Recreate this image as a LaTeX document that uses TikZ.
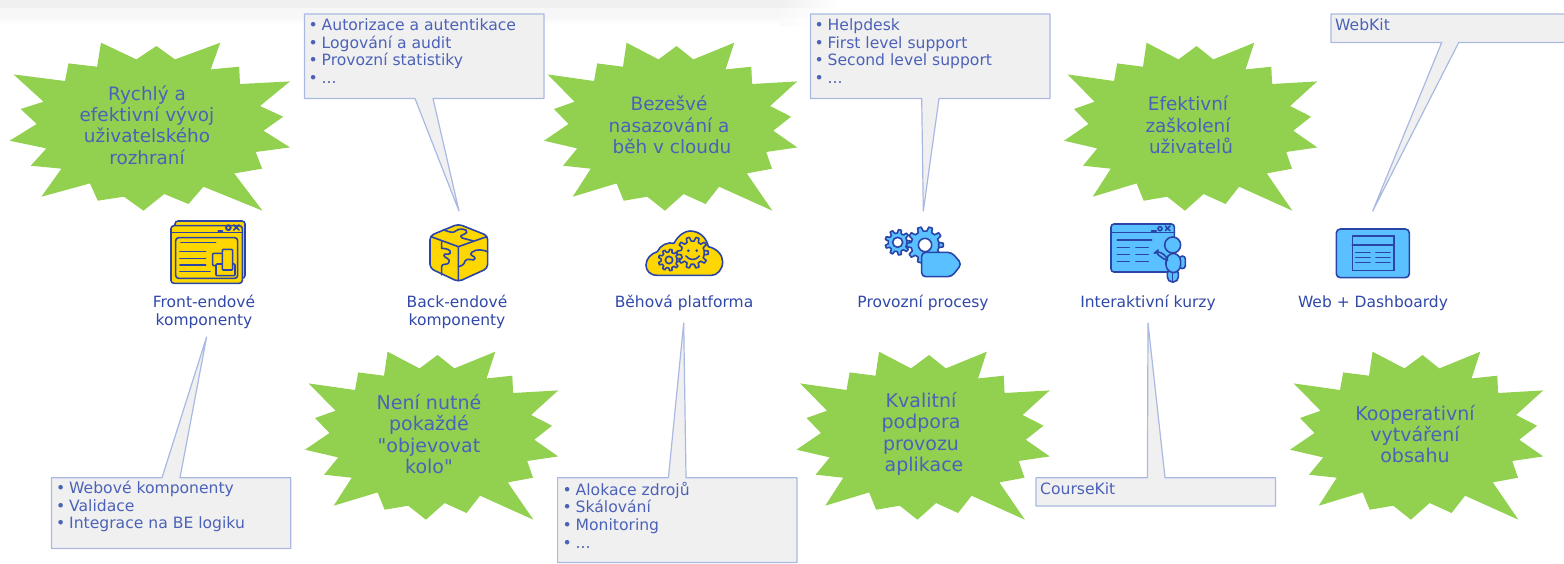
\documentclass[tikz,border=0pt]{standalone}
\usepackage{fontspec}
\setmainfont{DejaVu Sans}
\newfontfamily\plainfont{DejaVu Sans}
\usetikzlibrary{positioning}
\definecolor{burstgreen}{HTML}{92D050}
\definecolor{textblue}{HTML}{4C62B8}
\definecolor{labelblue}{HTML}{3048A8}
\definecolor{calloutgray}{HTML}{F0F0F0}
\definecolor{calloutline}{HTML}{A9B9E2}
\definecolor{iconyellow}{HTML}{FFD700}
\definecolor{iconblue}{HTML}{5AC0FF}
\definecolor{iconline}{HTML}{2A44A8}
\tikzset{
    burstnode/.style = {align=center,inner sep=0pt,text=textblue,font=\fontsize{18.4}{21.3}\selectfont},
    burstnodel/.style = {align=center,inner sep=0pt,text=textblue,font=\fontsize{19}{21.3}\selectfont},
    labelnode/.style = {align=center,inner sep=0pt,text=labelblue,font=\fontsize{15.5}{18}\selectfont},
    calloutnode/.style = {align=left,anchor=west,inner sep=0pt,text=textblue,font=\fontsize{15.6}{17.6}\selectfont},
    burstfill/.style = {fill=burstgreen},
    calloutshape/.style = {fill=calloutgray,draw=calloutline,line width=1.2pt,line join=round},
    iconfilly/.style = {draw=iconline,fill=iconyellow,line width=1.6pt,line join=round},
    iconfillb/.style = {draw=iconline,fill=iconblue,line width=1.6pt,line join=round},
    iconstroke/.style = {draw=iconline,line width=1.6pt,line cap=round}
}
\newcommand{\bul}{\makebox[13pt][l]{•}}
% burst outline: x, y, xscale
\newcommand{\burst}[3]{
\fill[burstfill,shift={(#1,#2)},xscale=#3]
 (91.4,0) -- (126.8,16.7) -- (146.8,3.3) -- (165.4,16.7) -- (210.7,0) -- (201.1,26.7)
 -- (229.6,24) -- (230.4,41.3) -- (280.4,38.7) -- (250.4,63.3) -- (273.6,74) -- (253.9,88)
 -- (280.4,104.7) -- (246.1,109.3) -- (252.5,126) -- (224.6,130.7) -- (252.9,168) -- (193.9,144)
 -- (178.9,161.3) -- (154.6,151.3) -- (133.9,168) -- (114.3,154) -- (88.2,158) -- (80.4,140.7)
 -- (31.8,154) -- (51.8,126) -- (21.1,123) -- (36.8,105.7) -- (0,98) -- (27.1,81.3)
 -- (11.1,66.3) -- (33.9,59) -- (3.9,31.7) -- (55.4,38.3) -- (58.9,20.7) -- (87.5,24) -- cycle;
}
% gear: x, y, outer, inner, teeth, style
\newcommand{\gear}[6]{
\begin{scope}[shift={(#1,#2)}]
\pgfmathsetmacro{\gs}{360/#5}
\draw[#6] (-0.3*\gs:#4) \foreach \i [evaluate=\i as \a using \i*\gs] in {0,...,#5} {
 -- (\a-0.3*\gs:#4) -- (\a-0.16*\gs:#3) -- (\a+0.16*\gs:#3) -- (\a+0.3*\gs:#4)} -- cycle;
\end{scope}
}
\begin{document}
\begin{tikzpicture}[x=1pt,y=-1pt]
\useasboundingbox (0,0) rectangle (1564,563);
\clip (0,0) rectangle (1564,563);
% top band
\fill[black!6] (0,0) rectangle (780,8);
\fill[black!3] (0,8) rectangle (780,17);
\shade[left color=black!6,right color=white] (780,0) rectangle (840,8);
\shade[left color=black!3,right color=white] (780,8) rectangle (830,17);
\shade[top color=black!3,bottom color=white] (0,17) rectangle (780,25);
\shade[left color=black!2,right color=white] (780,17) rectangle (810,25);
%
\burst{9.6}{42.7}{1}
\burst{544}{42.7}{0.903}
\burst{1064}{42.7}{0.903}
\burst{305}{351.7}{0.903}
\burst{796.5}{351.7}{0.903}
\burst{1290}{351.7}{0.903}
%
\draw[calloutshape] (304.5,14) -- (544,14) -- (544,98.5) -- (433,98.5) -- (459,211) -- (415,98.5) -- (304.5,98.5) -- cycle;
\draw[calloutshape] (810.5,14) -- (1050,14) -- (1050,98.5) -- (939,98.5) -- (923.3,211) -- (921.7,98.5) -- (810.5,98.5) -- cycle;
\draw[calloutshape] (1331,14) -- (1570,14) -- (1570,42.5) -- (1458.7,42.5) -- (1372.7,211) -- (1441.7,42.5) -- (1331,42.5) -- cycle;
\draw[calloutshape] (51.5,477.7) -- (162,477.7) -- (206.6,337) -- (180,477.7) -- (290.8,477.7) -- (290.8,548.5) -- (51.5,548.5) -- cycle;
\draw[calloutshape] (557.6,477.7) -- (668.4,477.7) -- (683.7,323) -- (686,477.7) -- (797,477.7) -- (797,562.5) -- (557.6,562.5) -- cycle;
\draw[calloutshape] (1036,477.7) -- (1147.4,477.7) -- (1148,323) -- (1165,477.7) -- (1275.5,477.7) -- (1275.5,506) -- (1036,506) -- cycle;
%
\node[burstnode] at (147,125) (rychly) {Rychlý a\\efektivní vývoj\\uživatelského\\rozhraní};
\node[burstnode] at (669,125) (bezesve) {Bezešvé\\nasazování a\\\hspace*{6pt}běh v cloudu};
\node[burstnode] at (1188,125) (efektivni) {Efektivní\\zaškolení\\\hspace*{6pt}uživatelů};
\node[burstnodel] at (429,434) (neni) {Není nutné\\pokaždé\\{\plainfont"}objevovat\\kolo{\plainfont"}};
\node[burstnodel] at (921,434) (kvalitni) {Kvalitní\\podpora\\provozu\\\hspace*{6pt}aplikace};
\node[burstnodel] at (1415,434) (kooperativni) {Kooperativní\\vytváření\\obsahu};
%
\node[calloutnode] at (308.5,51) (backlist) {\bul Autorizace a autentikace\\\bul Logování a audit\\\bul Provozní statistiky\\\bul ...};
\node[calloutnode] at (814.5,51) (opslist) {\bul Helpdesk\\\bul First level support\\\bul Second level support\\\bul ...};
\node[calloutnode] at (1335,25) (webkit) {WebKit};
\node[calloutnode] at (56,506.5) (frontlist) {\bul Webové komponenty\\\bul Validace\\\bul Integrace na BE logiku};
\node[calloutnode] at (562.5,515) (runlist) {\bul Alokace zdrojů\\\bul Skálování\\\bul Monitoring\\\bul ...};
\node[calloutnode] at (1040,489) (coursekit) {CourseKit};
%
\node[labelnode] at (204,312) (front) {Front-endové\\komponenty};
\node[labelnode] at (457,312) (back) {Back-endové\\komponenty};
\node[labelnode] at (684,303) (platform) {Běhová platforma};
\node[labelnode] at (923,303) (process) {Provozní procesy};
\node[labelnode] at (1148,303) (courses) {Interaktivní kurzy};
\node[labelnode] at (1373,303) (web) {Web + Dashboardy};
% front-end icon
\begin{scope}[shift={(165,215)},scale=1/3]
\draw[iconfilly,rounded corners=3pt] (30,18) rectangle (240,190);
\draw[iconfilly,rounded corners=3pt] (18,32) rectangle (232,205);
\draw[iconstroke] (18,53) -- (232,53);
\draw[iconstroke,line width=2pt] (160,48) -- (172,48);
\draw[iconstroke,line width=2pt] (190,38) circle (7);
\draw[iconstroke] (206,30) -- (222,45) (222,30) -- (206,45);
\draw[iconfilly,rounded corners=3pt] (32,68) rectangle (218,190);
\draw[iconstroke] (48,83) -- (152,83) (45,110) -- (122,110) (45,130) -- (122,130) (45,150) -- (122,150) (45,170) -- (135,170);
\draw[iconfilly,rounded corners=1pt] (143,115) rectangle (185,152);
\draw[iconfilly,rounded corners=1pt] (153,147) rectangle (210,182);
\draw[iconfilly,rounded corners=1pt] (172,103) rectangle (203,165);
\end{scope}
% back-end icon
\begin{scope}[shift={(420,215)},scale=1/3]
\draw[iconfilly,rounded corners=4pt] (115,27) -- (203,62) -- (203,160) -- (115,200) -- (30,160) -- (30,62) -- cycle;
\draw[iconstroke] (33,65) -- (115,95) -- (200,65) (115,95) -- (115,197);
\draw[iconstroke] (70,44) .. controls (90,52) and (100,55) .. (107,48) .. controls (115,38) and (145,42) .. (140,52) .. controls (135,60) and (115,60) .. (125,68) .. controls (135,72) and (150,75) .. (160,78);
\draw[iconstroke] (65,78) -- (65,100) .. controls (80,100) and (95,105) .. (90,115) .. controls (85,122) and (72,112) .. (72,122) .. controls (72,130) and (95,128) .. (85,145) .. controls (80,150) and (65,145) .. (65,155) -- (65,180);
\draw[iconstroke] (203,110) .. controls (190,105) and (170,100) .. (155,112) .. controls (145,122) and (165,122) .. (165,130) .. controls (165,142) and (140,125) .. (135,138) .. controls (133,150) and (125,152) .. (115,155);
\end{scope}
% platform icon
\begin{scope}[shift={(600,200)},scale=1/3]
\draw[iconfilly] (172,226) .. controls (150,226) and (138,212) .. (138,195) .. controls (138,175) and (155,160) .. (172,155) .. controls (180,135) and (205,125) .. (222,130) .. controls (235,105) and (255,93) .. (270,93) .. controls (300,93) and (320,115) .. (325,140) .. controls (350,145) and (368,165) .. (368,185) .. controls (368,210) and (350,226) .. (335,226) -- cycle;
\gear{207}{180}{32}{24}{9}{iconfilly}
\draw[iconstroke] (207,180) circle (11);
\gear{278}{158}{47}{35}{10}{iconfilly}
\fill[iconline] (265,152) circle (4.5) (290,152) circle (4.5);
\draw[iconstroke] (258,168) .. controls (268,182) and (288,182) .. (298,168);
% process icon
\gear{893}{127}{38}{28}{9}{iconfillb}
\fill[white] (893,127) circle (15);
\draw[iconstroke] (893,127) circle (15);
\gear{975}{135}{55}{42}{10}{iconfillb}
\fill[white] (975,135) circle (20);
\draw[iconstroke] (975,135) circle (20);
\draw[iconfillb,rounded corners=4pt] (965,157) -- (1055,157) -- (1085,192) -- (1055,230) -- (965,230) -- cycle;
\end{scope}
% course icon
\begin{scope}[shift={(1060,200)},scale=1/3]
\draw[iconfillb,rounded corners=3pt] (153,72) rectangle (343,216);
\draw[iconstroke] (153,97) -- (343,97);
\draw[iconstroke,line width=2pt] (275,92) -- (288,92);
\draw[iconstroke] (300,86) circle (6);
\draw[iconstroke] (316,78) -- (330,92) (330,78) -- (316,92);
\draw[iconstroke] (172,120) -- (275,120) (172,142) -- (208,142) (228,142) -- (265,142) (172,163) -- (208,163) (228,163) -- (265,163) (172,184) -- (208,184) (228,184) -- (265,184);
\draw[iconfillb,rounded corners=3pt] (358,168) rectangle (376,206);
\draw[iconfillb,rounded corners=5pt] (322,205) rectangle (355,246);
\draw[iconstroke] (338,215) -- (338,243);
\draw[iconfillb,rounded corners=8pt] (318,160) rectangle (362,218);
\draw[iconfillb,rounded corners=4pt] (285,158) -- (292,152) -- (322,170) -- (322,184) -- cycle;
\draw[iconfillb] (338,135) circle (24);
\end{scope}
% web icon
\begin{scope}[shift={(1060,200)},scale=1/3]
\draw[iconfillb,rounded corners=4pt] (829,87) rectangle (1048,233);
\draw[iconstroke] (877,108) rectangle (1002,212);
\draw[iconstroke] (877,135) -- (1002,135);
\draw[iconstroke] (887,157) -- (930,157) (948,157) -- (990,157) (887,172) -- (930,172) (948,172) -- (990,172) (887,188) -- (930,188) (948,188) -- (990,188);
\end{scope}
\end{tikzpicture}
\end{document}
